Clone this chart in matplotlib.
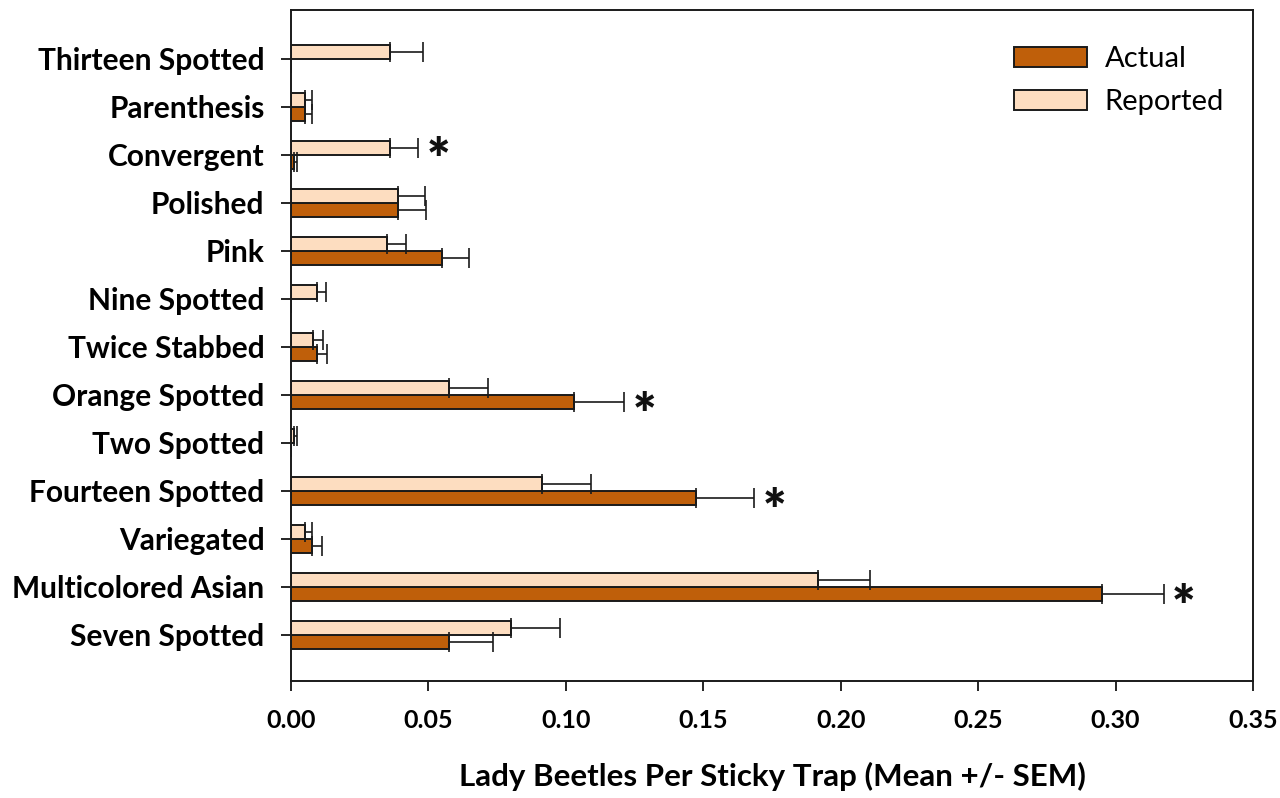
"""Lady beetle counts per sticky trap: actual vs. reported, horizontal grouped bars."""

import matplotlib

matplotlib.use("Agg")
import matplotlib.pyplot as plt
import numpy as np

plt.rcParams["font.family"] = ["Lato", "DejaVu Sans"]

# Listed top to bottom as in the figure.
species = [
    "Thirteen Spotted", "Parenthesis", "Convergent", "Polished", "Pink",
    "Nine Spotted", "Twice Stabbed", "Orange Spotted", "Two Spotted",
    "Fourteen Spotted", "Variegated", "Multicolored Asian", "Seven Spotted",
]
actual = [0.0, 0.0051, 0.0011, 0.0388, 0.0551, 0.0, 0.0093, 0.1031, 0.0,
          0.1475, 0.0078, 0.2950, 0.0576]
actual_sem = [0.0, 0.0027, 0.0012, 0.0103, 0.0096, 0.0, 0.0039, 0.0181, 0.0,
              0.0210, 0.0035, 0.0225, 0.0160]
reported = [0.0360, 0.0051, 0.0360, 0.0388, 0.0348, 0.0093, 0.0079, 0.0576, 0.0012,
            0.0912, 0.0051, 0.1916, 0.0801]
reported_sem = [0.0120, 0.0027, 0.0103, 0.0100, 0.0071, 0.0034, 0.0036, 0.0140, 0.0011,
                0.0180, 0.0027, 0.0189, 0.0178]
# Species marked significant; the star follows the longer error bar.
significant = ["Convergent", "Orange Spotted", "Fourteen Spotted", "Multicolored Asian"]

xticks = [0.00, 0.05, 0.10, 0.15, 0.20, 0.25, 0.30, 0.35]

ACTUAL_COLOR = "#BF5F0A"
REPORTED_COLOR = "#FDDDC0"
BAR_H = 0.3

fig = plt.figure(figsize=(12.8, 7.98), dpi=100)
ax = fig.add_axes([0.2273, 0.1466, 0.7516, 0.8409])

y = np.arange(len(species))[::-1]
err_kw = dict(ecolor="#1a1a1a", elinewidth=1.2, capsize=7, capthick=1.2)

for vals, sems, offset, color, label in (
    (actual, actual_sem, -BAR_H / 2, ACTUAL_COLOR, "Actual"),
    (reported, reported_sem, BAR_H / 2, REPORTED_COLOR, "Reported"),
):
    vals = np.array(vals)
    sems = np.array(sems)
    shown = vals > 0
    ax.barh(y + offset, vals, height=BAR_H, color=color, edgecolor="#1a1a1a",
            linewidth=1.4, label=label, zorder=2)
    ax.errorbar(vals[shown], (y + offset)[shown],
                xerr=[np.zeros(shown.sum()), sems[shown]],
                fmt="none", zorder=3, **err_kw)

for name in significant:
    i = species.index(name)
    top_a = actual[i] + actual_sem[i]
    top_r = reported[i] + reported_sem[i]
    if top_a >= top_r:
        x_end, y_pos = top_a, y[i] - BAR_H / 2
    else:
        x_end, y_pos = top_r, y[i] + BAR_H / 2
    ax.text(x_end + 0.003, y_pos - 0.30, "*", fontsize=40, fontweight="heavy",
            ha="left", va="center", color="#111111")

ax.set_xlim(0, 0.35)
ax.set_ylim(-0.96, 13.02)
ax.set_xticks(xticks)
ax.set_xticklabels([f"{t:.2f}" for t in xticks], fontsize=18, fontweight="bold")
ax.set_yticks(y)
ax.set_yticklabels(species, fontsize=21.5, fontweight="bold")
ax.tick_params(axis="x", direction="out", length=7, width=1.2, pad=13)
ax.tick_params(axis="y", direction="out", length=7, width=1.2, pad=12)
for spine in ax.spines.values():
    spine.set_linewidth(1.4)
    spine.set_color("#1a1a1a")

ax.set_xlabel("Lady Beetles Per Sticky Trap (Mean +/- SEM)", fontsize=22.5,
              fontweight="bold", labelpad=22)

ax.legend(loc="upper left", bbox_to_anchor=(0.752, 0.946), frameon=False,
          fontsize=21, handlelength=2.5, handleheight=0.7, borderpad=0,
          borderaxespad=0, labelspacing=0.58, handletextpad=0.6)

fig.savefig("out.png", dpi=100)
